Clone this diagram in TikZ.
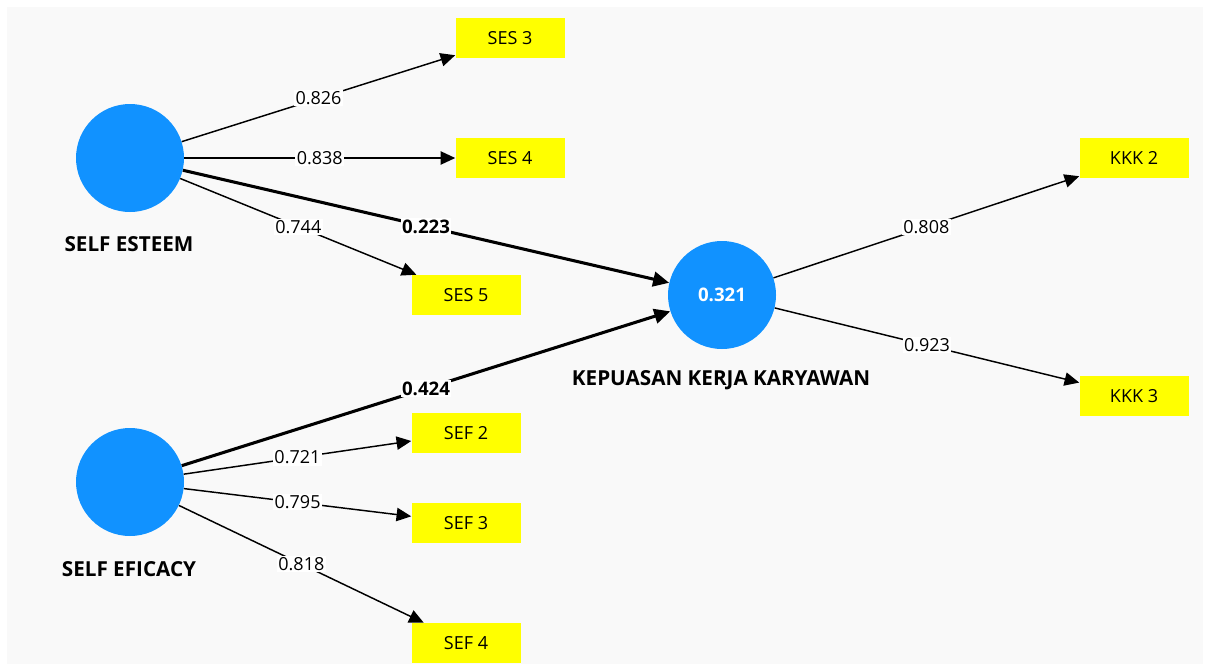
\documentclass[tikz,border=0pt]{standalone}
\usepackage{fontspec}
\setmainfont{Open Sans}
\usepackage{xcolor}
\usepackage{tikz}
\usetikzlibrary{arrows.meta}

\definecolor{lvblue}{RGB}{17,146,255}
\definecolor{bggray}{RGB}{249,249,249}
\definecolor{itemyellow}{RGB}{255,255,0}

\begin{document}
\begin{tikzpicture}[x=0.75pt,y=-0.75pt,
  latent/.style={circle, fill=lvblue, minimum size=81pt, inner sep=0pt, text=white, font=\bfseries\fontsize{14}{16}\selectfont},
  item/.style={fill=itemyellow, minimum width=81.75pt, minimum height=30pt, inner sep=0pt, font=\fontsize{13.5}{15}\selectfont},
  lvname/.style={font=\bfseries\fontsize{15.5}{17}\selectfont},
  load/.style={draw, line width=1.1pt, -{Triangle[length=11pt,width=10pt]}},
  inner/.style={draw, line width=2.3pt, -{Triangle[length=12pt,width=11pt]}},
  wt/.style={fill=white, inner sep=1pt, font=\fontsize{13.5}{15}\selectfont},
  bwt/.style={wt, font=\bfseries\fontsize{14}{16}\selectfont}
]
\fill[white] (0,0) rectangle (1205,664);
\fill[bggray] (7,7) rectangle (1203,664);
\useasboundingbox (0,0) rectangle (1205,664);

% latent variables
\node[latent] (se) at (130,158) {};
\node[latent] (sef) at (130,482) {};
\node[latent] (kkk) at (722,295) {0.321};
\node[lvname] (seName) at (129,244) {SELF ESTEEM};
\node[lvname] (sefName) at (129,569) {SELF EFICACY};
\node[lvname] (kkkName) at (721,380) {KEPUASAN KERJA KARYAWAN};

% indicators
\node[item] (ses3) at (510,38) {SES 3};
\node[item] (ses4) at (510,158) {SES 4};
\node[item] (ses5) at (466,295) {SES 5};
\node[item] (sef2) at (466,433) {SEF 2};
\node[item] (sef3) at (466,523) {SEF 3};
\node[item] (sef4) at (466,643) {SEF 4};
\node[item] (kkk2) at (1134,158) {KKK 2};
\node[item] (kkk3) at (1134,396) {KKK 3};

% outer loadings
\draw[load] (se) -- node[wt] {0.826} (ses3);
\draw[load] (se) -- node[wt] {0.838} (ses4);
\draw[load] (se) -- node[wt] {0.744} (ses5);
\draw[load] (sef) -- node[wt] {0.721} (sef2);
\draw[load] (sef) -- node[wt] {0.795} (sef3);
\draw[load] (sef) -- node[wt] {0.818} (sef4);
\draw[load] (kkk) -- node[wt] {0.808} (kkk2);
\draw[load] (kkk) -- node[wt] {0.923} (kkk3);

% path coefficients
\draw[inner] (se) -- node[bwt] {0.223} (kkk);
\draw[inner] (sef) -- node[bwt] {0.424} (kkk);
\end{tikzpicture}
\end{document}
